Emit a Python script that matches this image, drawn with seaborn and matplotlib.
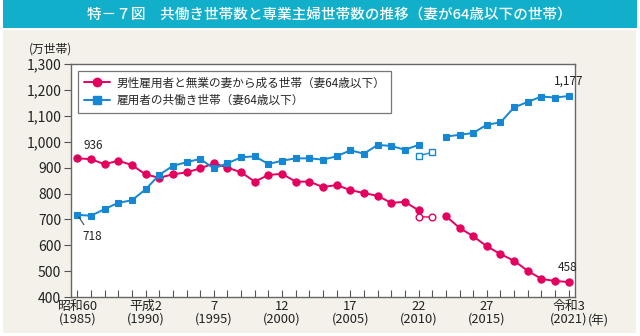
import numpy as np
import pandas as pd
import matplotlib
matplotlib.use("Agg")
import matplotlib.pyplot as plt
from matplotlib.patches import Rectangle
from matplotlib.lines import Line2D
import seaborn as sns

# ---- data ----
years = list(range(1985, 2022))
housewife = [936, 933, 913, 927, 910, 874, 861, 874, 882, 897,
             917, 900, 882, 846, 872, 876, 846, 846, 825, 833,
             813, 802, 791, 764, 768, 735, np.nan, 713, 667, 635,
             596, 566, 540, 501, 470, 462, 458]
dual = [718, 714, 740, 764, 774, 816, 872, 907, 921, 934,
        897, 917, 940, 944, 914, 927, 936, 936, 931, 944,
        967, 954, 988, 984, 969, 988, np.nan, 1020, 1027, 1034,
        1066, 1075, 1133, 1154, 1175, 1171, 1177]
ref_years = [2010, 2011]
housewife_ref = [710, 709]
dual_ref = [946, 959]

series_names = ["男性雇用者と無業の妻から成る世帯（妻64歳以下）", "雇用者の共働き世帯（妻64歳以下）"]
tick_years = [1985, 1990, 1995, 2000, 2005, 2010, 2015, 2021]
tick_labels = ["昭和60\n(1985)", "平成2\n(1990)", "7\n(1995)", "12\n(2000)",
               "17\n(2005)", "22\n(2010)", "27\n(2015)", "令和3\n(2021)"]
yticks = [400, 500, 600, 700, 800, 900, 1000, 1100, 1200, 1300]

PINK = "#E4005E"
BLUE = "#1587D3"
colors = {series_names[0]: PINK, series_names[1]: BLUE}
markers = {series_names[0]: "o", series_names[1]: "s"}
msize = {series_names[0]: 5.2, series_names[1]: 4.6}

sns.set_theme(style="white")
plt.rcParams['font.family'] = ['Noto Sans CJK JP', 'DejaVu Sans']

rows = []
for name, vals in zip(series_names, [housewife, dual]):
    for y, v in zip(years, vals):
        if not np.isnan(v):
            rows.append(dict(year=y, value=v, series=name, seg=0 if y <= 2010 else 1))
df = pd.DataFrame(rows)
ref_rows = []
for name, vals in zip(series_names, [housewife_ref, dual_ref]):
    for y, v in zip(ref_years, vals):
        ref_rows.append(dict(year=y, value=v, series=name))
dfr = pd.DataFrame(ref_rows)

fig = plt.figure(figsize=(6.4, 3.36), dpi=100)
fig.patch.set_facecolor("white")
# beige panel and title banner
fig.patches.append(Rectangle((0.005, 0.01), 0.988, 0.90, transform=fig.transFigure,
                             facecolor="#F4F1EB", edgecolor="none", zorder=-10))
fig.patches.append(Rectangle((0.005, 0.918), 0.99, 0.082, transform=fig.transFigure,
                             facecolor="#12AFCB", edgecolor="none", zorder=-10))
fig.text(0.515, 0.957, "特－７図　共働き世帯数と専業主婦世帯数の推移（妻が64歳以下の世帯）",
         color="white", fontsize=10.5, ha="center", va="center", fontweight="medium")

ax = fig.add_axes([0.111, 0.116, 0.787, 0.693])
ax.set_facecolor("white")

for name in series_names:
    for seg in [0, 1]:
        sub = df[(df.series == name) & (df.seg == seg)]
        sns.lineplot(data=sub, x="year", y="value", ax=ax, color=colors[name],
                     marker=markers[name], markersize=msize[name],
                     markeredgecolor=colors[name], markeredgewidth=0.8,
                     linewidth=1.4, legend=False)
    subr = dfr[dfr.series == name]
    sns.lineplot(data=subr, x="year", y="value", ax=ax, color=colors[name],
                 marker=markers[name], markersize=msize[name] - 0.4,
                 markerfacecolor="white", markeredgecolor=colors[name],
                 markeredgewidth=1.0, linewidth=1.0, legend=False)

ax.set_xlim(1984.54, 2021.44)
ax.set_ylim(400, 1300)
ax.set_xlabel("")
ax.set_ylabel("")
ax.set_yticks(yticks)
ax.set_yticklabels([f"{v:,}" for v in yticks], fontsize=10, color="#222222")
ax.set_xticks(years)
ax.set_xticklabels([tick_labels[tick_years.index(y)] if y in tick_years else "" for y in years],
                   fontsize=9.3, color="#222222", linespacing=1.0)
ax.tick_params(axis="x", direction="in", length=5, width=0.8, color="#555555", pad=2, bottom=True)
ax.tick_params(axis="y", direction="out", length=5, width=0.8, color="#555555", pad=2, left=True)
for s in ax.spines.values():
    s.set_visible(True)
    s.set_color("#666666")
    s.set_linewidth(1.0)

# legend
handles = [Line2D([0], [0], color=PINK, marker="o", markersize=6, linewidth=1.4, markeredgecolor=PINK),
           Line2D([0], [0], color=BLUE, marker="s", markersize=5.3, linewidth=1.4, markeredgecolor=BLUE)]
leg = ax.legend(handles, series_names, loc="upper left", bbox_to_anchor=(0.014, 0.972),
                borderaxespad=0, fontsize=8.4, frameon=True, fancybox=False,
                edgecolor="#555555", handlelength=2.2, handletextpad=0.6,
                labelspacing=0.4, borderpad=0.5)
leg.get_frame().set_linewidth(0.9)

# annotations
ann_kw = dict(fontsize=8.5, color="#222222")
ax.annotate("936", xy=(1985, housewife[0]), xytext=(1985.45, 985), ha="left", va="center",
            arrowprops=dict(arrowstyle="-", color="#444444", lw=0.8), **ann_kw)
ax.annotate("718", xy=(1985, dual[0]), xytext=(1985.35, 633), ha="left", va="center",
            arrowprops=dict(arrowstyle="-", color="#444444", lw=0.8), **ann_kw)
ax.text(2021, dual[-1] + 32, "1,177", ha="center", va="bottom", **ann_kw)
ax.text(2020.9, housewife[-1] + 30, "458", ha="center", va="bottom", **ann_kw)

fig.text(0.112, 0.853, "(万世帯)", ha="right", va="center", fontsize=8.5, color="#222222")
fig.text(0.918, 0.045, "(年)", ha="left", va="center", fontsize=9, color="#222222")

fig.savefig("out.png", dpi=100, facecolor=fig.get_facecolor())
